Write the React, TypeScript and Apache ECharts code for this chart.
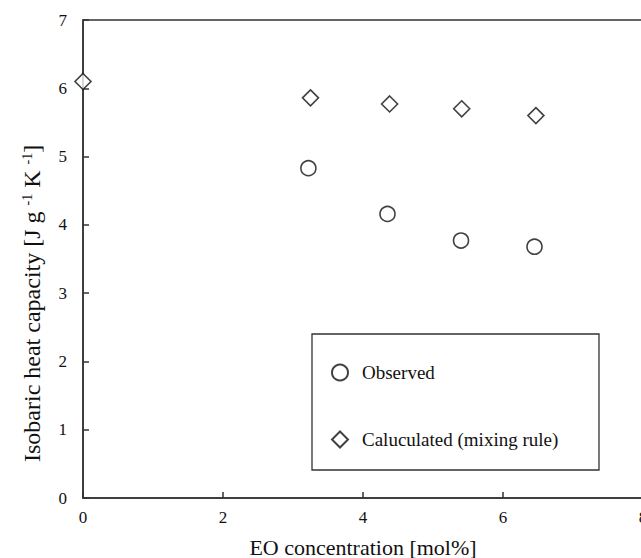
import React, { useEffect, useRef } from "react";
import * as echarts from "echarts";

const FONT = "Liberation Serif, Times New Roman, serif";

const observedX = [3.22, 4.35, 5.4, 6.45];
const observedY = [4.83, 4.16, 3.77, 3.68];
const calculatedX = [0, 3.25, 4.38, 5.41, 6.47];
const calculatedY = [6.1, 5.86, 5.77, 5.7, 5.6];
const xTicks = [0, 2, 4, 6, 8];
const yTicks = [0, 1, 2, 3, 4, 5, 6, 7];
const seriesNames = ["Observed", "Caluculated (mixing rule)"];

export default function App() {
  const ref = useRef<HTMLDivElement>(null);
  useEffect(() => {
    if (!ref.current) return;
    const chart = echarts.init(ref.current, undefined, { renderer: "svg" });
    const axisLine = { show: true, lineStyle: { color: "#333", width: 1.5 } };
    const option: any = {
      animation: false,
      backgroundColor: "#fff",
      textStyle: { fontFamily: FONT, color: "#111" },
      grid: {
        left: 83,
        top: 20,
        width: 560,
        height: 478,
        outerBoundsMode: "none",
        containLabel: false,
        show: true,
        borderColor: "#333",
        borderWidth: 1.5,
      },
      xAxis: {
        type: "value",
        min: xTicks[0],
        max: xTicks[xTicks.length - 1],
        interval: 2,
        axisLine,
        axisTick: { show: true, inside: true, length: 6, lineStyle: { color: "#333", width: 1.5 } },
        splitLine: { show: false },
        axisLabel: { fontFamily: FONT, fontSize: 17, color: "#111", margin: 11 },
        name: "EO concentration [mol%]",
        nameLocation: "middle",
        nameGap: 38,
        nameTextStyle: { fontFamily: FONT, fontSize: 22, color: "#111" },
      },
      yAxis: {
        type: "value",
        min: yTicks[0],
        max: yTicks[yTicks.length - 1],
        interval: 1,
        axisLine,
        axisTick: { show: true, inside: true, length: 6, lineStyle: { color: "#333", width: 1.5 } },
        splitLine: { show: false },
        axisLabel: { fontFamily: FONT, fontSize: 17, color: "#111", margin: 16 },
      },
      legend: {
        orient: "vertical",
        left: 326,
        top: 358,
        itemWidth: 16,
        itemHeight: 16,
        itemGap: 48,
        textStyle: { fontFamily: FONT, fontSize: 19, color: "#111", padding: [0, 0, 0, 9] },
        data: seriesNames,
      },
      graphic: [
        {
          type: "rect",
          shape: { x: 312, y: 334, width: 287, height: 136 },
          style: { fill: "none", stroke: "#333", lineWidth: 1.3 },
          z: 10,
        },
        {
          type: "text",
          x: 32,
          y: 462,
          rotation: Math.PI / 2,
          style: {
            text: "Isobaric heat capacity [J g {sup|-1} K {sup|-1}]",
            fontFamily: FONT,
            fontSize: 24,
            fill: "#111",
            align: "left",
            verticalAlign: "middle",
            rich: {
              sup: { fontFamily: FONT, fontSize: 14, verticalAlign: "top", fill: "#111" },
            },
          },
        },
      ],
      series: [
        {
          name: seriesNames[0],
          type: "scatter",
          symbol: "circle",
          symbolSize: 15,
          itemStyle: { color: "#fff", borderColor: "#111", borderWidth: 1.6 },
          data: observedX.map((x, i) => [x, observedY[i]]),
        },
        {
          name: seriesNames[1],
          type: "scatter",
          symbol: "diamond",
          symbolSize: 16,
          itemStyle: { color: "#fff", borderColor: "#111", borderWidth: 1.6 },
          data: calculatedX.map((x, i) => [x, calculatedY[i]]),
        },
      ],
    };
    chart.setOption(option);
    return () => chart.dispose();
  }, []);
  return (
    <div
      ref={ref}
      style={{ position: "fixed", left: 0, top: 0, width: 641, height: 558, background: "#fff" }}
    />
  );
}
